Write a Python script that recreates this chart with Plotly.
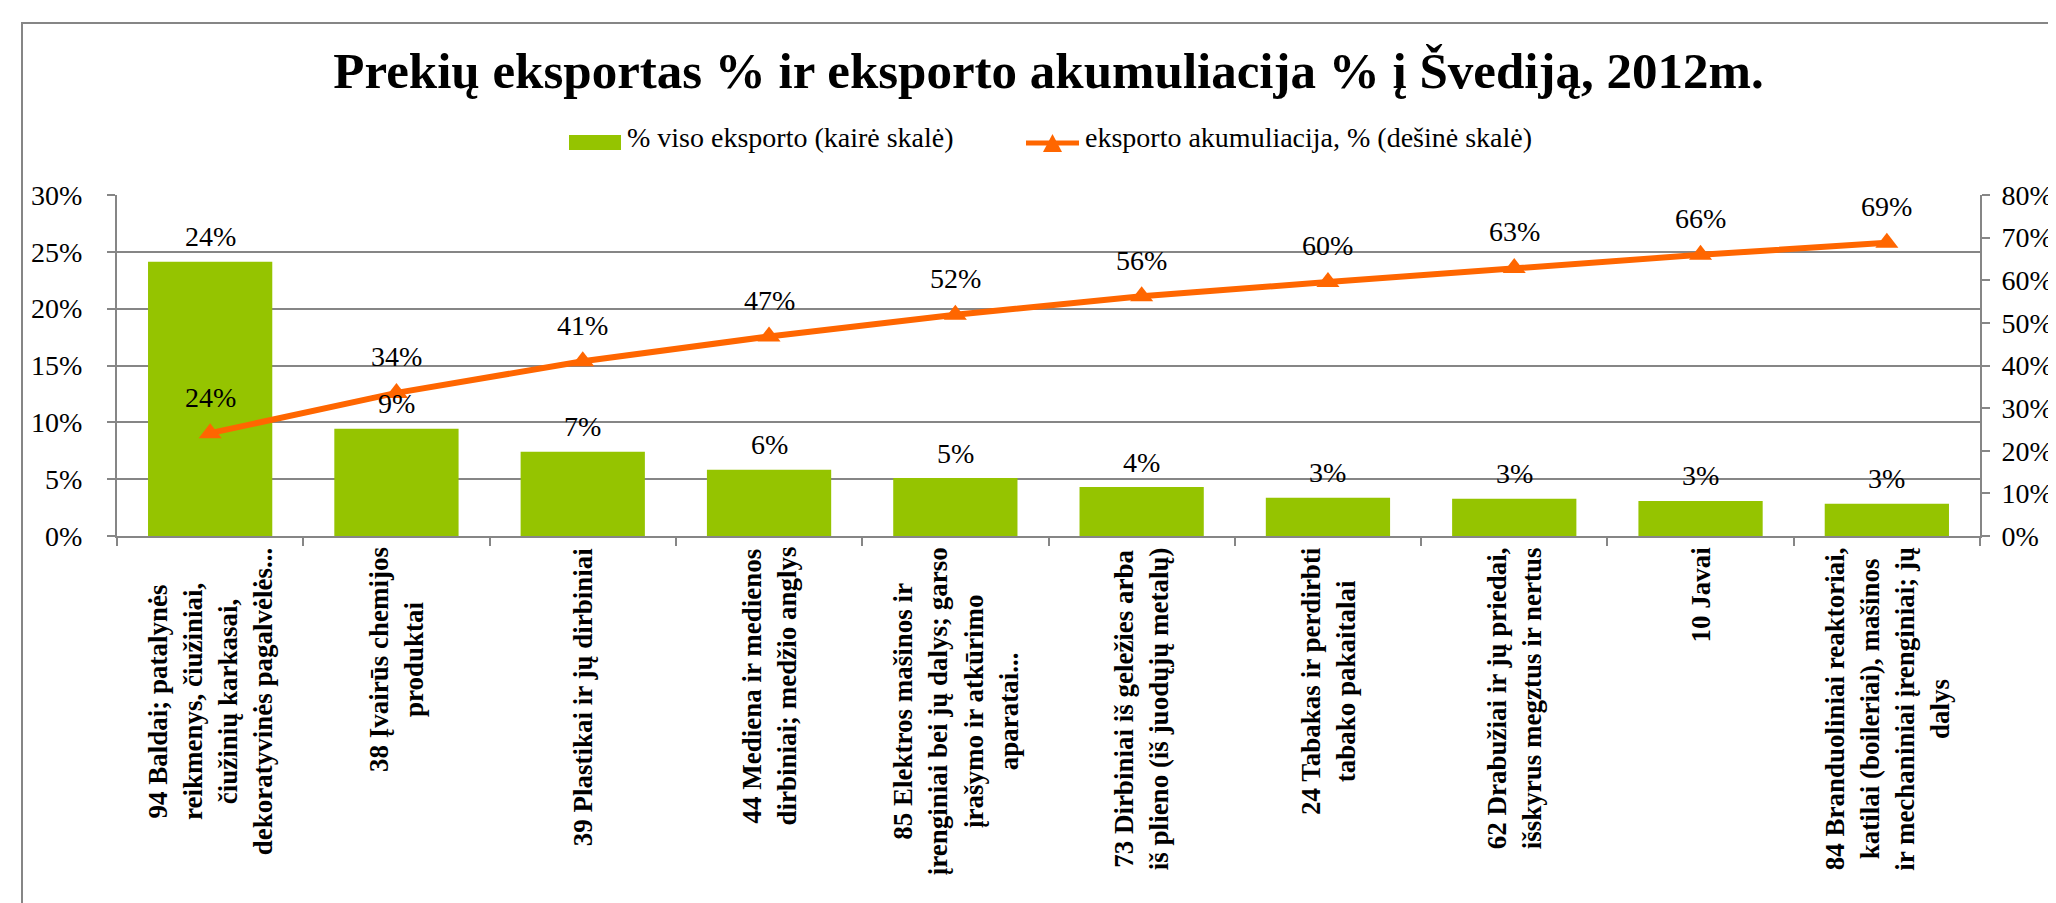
import plotly.graph_objects as go

# ---- data ----
categories = [
    "94 Baldai; patalynės<br>reikmenys, čiužiniai,<br>čiužinių karkasai,<br>dekoratyvinės pagalvėlės...",
    "38 Įvairūs chemijos<br>produktai",
    "39 Plastikai ir jų dirbiniai",
    "44 Mediena ir medienos<br>dirbiniai; medžio anglys",
    "85 Elektros mašinos ir<br>įrenginiai bei jų dalys; garso<br>įrašymo ir atkūrimo<br>aparatai...",
    "73 Dirbiniai iš geležies arba<br>iš plieno (iš juodųjų metalų)",
    "24 Tabakas ir perdirbti<br>tabako pakaitalai",
    "62 Drabužiai ir jų priedai,<br>išskyrus megztus ir nertus",
    "10 Javai",
    "84 Branduoliniai reaktoriai,<br>katilai (boileriai), mašinos<br>ir mechaniniai įrenginiai; jų<br>dalys",
]
export_share = [0.2413, 0.0944, 0.0742, 0.0583, 0.0510, 0.0431, 0.0337, 0.0328, 0.0308, 0.0284]
cumulative = [0.2413, 0.3357, 0.4099, 0.4682, 0.5192, 0.5623, 0.5960, 0.6288, 0.6596, 0.6880]

title_text = "Prekių eksportas % ir eksporto akumuliacija % į Švediją, 2012m."
bar_name = "% viso eksporto (kairė skalė)"
line_name = "eksporto akumuliacija, % (dešinė skalė)"

left_ticks = [0, 0.05, 0.10, 0.15, 0.20, 0.25, 0.30]
right_ticks = [0, 0.1, 0.2, 0.3, 0.4, 0.5, 0.6, 0.7, 0.8]

# ---- style ----
W, H = 2056, 903
L, R, T, B = 109, 1972, 187, 528
GREEN = "#95C400"
ORANGE = "#FF6600"
GRAY = "#868686"
SERIF = "Liberation Serif"


def px(x):
    return (x - L) / (R - L)


def py(y):
    return (B - y) / (B - T)


keys = [f"c{i}" for i in range(len(categories))]

fig = go.Figure()
fig.add_trace(go.Bar(
    x=keys, y=export_share, name=bar_name, marker=dict(color=GREEN, line=dict(width=0)),
    showlegend=False, hoverinfo="skip",
))
fig.add_trace(go.Scatter(
    x=keys, y=cumulative, name=line_name, yaxis="y2", mode="lines+markers",
    line=dict(color=ORANGE, width=6),
    marker=dict(symbol="triangle-up", size=20, color=ORANGE),
    showlegend=False, hoverinfo="skip",
))

annotations = []
# data labels
for k, v in zip(keys, export_share):
    annotations.append(dict(x=k, y=v, xref="x", yref="y", text=f"{v:.0%}", showarrow=False,
                            yanchor="middle", yshift=25,
                            font=dict(family=SERIF, size=28, color="black")))
for k, v in zip(keys, cumulative):
    annotations.append(dict(x=k, y=v, xref="x", yref="y2", text=f"{v:.0%}", showarrow=False,
                            yanchor="middle", yshift=36,
                            font=dict(family=SERIF, size=28, color="black")))
# category labels (rotated, centered lines)
for k, c in zip(keys, categories):
    annotations.append(dict(x=k, y=0, xref="x", yref="paper", text=f"<b>{c}</b>", showarrow=False,
                            textangle=-90, xanchor="center", yanchor="top", yshift=-9, align="center",
                            font=dict(family=SERIF, size=27, color="black")))
# legend texts
annotations.append(dict(x=px(617), y=py(130), xref="paper", yref="paper", text=bar_name,
                        showarrow=False, xanchor="left", yanchor="middle",
                        font=dict(family=SERIF, size=28, color="black")))
annotations.append(dict(x=px(1075), y=py(130), xref="paper", yref="paper", text=line_name,
                        showarrow=False, xanchor="left", yanchor="middle",
                        font=dict(family=SERIF, size=28, color="black")))

shapes = [
    # outer chart frame
    dict(type="rect", xref="paper", yref="paper", x0=px(14), x1=px(2080), y0=py(930), y1=py(15),
         line=dict(color=GRAY, width=2), fillcolor="rgba(0,0,0,0)", layer="below"),
    # legend swatch
    dict(type="rect", xref="paper", yref="paper", x0=px(561), x1=px(613), y0=py(142), y1=py(127),
         line=dict(width=0), fillcolor=GREEN),
    # legend line
    dict(type="line", xref="paper", yref="paper", x0=px(1018), x1=px(1071), y0=py(135), y1=py(135),
         line=dict(color=ORANGE, width=5)),
    # legend triangle
    dict(type="path", xref="paper", yref="paper",
         path=f"M {px(1035)} {py(144)} L {px(1054)} {py(144)} L {px(1044.5)} {py(126)} Z",
         line=dict(width=0), fillcolor=ORANGE),
]

fig.update_layout(
    width=W, height=H,
    margin=dict(l=L, r=W - R, t=T, b=H - B, pad=0, autoexpand=False),
    paper_bgcolor="white", plot_bgcolor="white",
    title=dict(text=f"<b>{title_text}</b>", x=0.5, xref="paper", xanchor="center",
               y=1 - 62 / H, yref="container", yanchor="middle", automargin=False,
               font=dict(family=SERIF, size=51, color="black")),
    showlegend=False,
    bargap=0.333,
    annotations=annotations,
    shapes=shapes,
    xaxis=dict(type="category", range=[-0.5, len(keys) - 0.5], tickson="boundaries",
               ticks="outside", ticklen=8, tickwidth=2, tickcolor=GRAY, automargin=False,
               showline=True, linecolor=GRAY, linewidth=2, showgrid=False,
               showticklabels=False, fixedrange=True),
    yaxis=dict(range=[0, 0.30], tickvals=left_ticks, tickformat=".0%", automargin=False,
               showgrid=True, gridcolor=GRAY, gridwidth=2, zeroline=False,
               ticks="outside", ticklen=8, tickwidth=2, tickcolor=GRAY,
               showline=True, linecolor=GRAY, linewidth=2, ticklabelstandoff=19,
               tickfont=dict(family=SERIF, size=28, color="black")),
    yaxis2=dict(range=[0, 0.80], tickvals=right_ticks, tickformat=".0%", overlaying="y", side="right",
                showgrid=False, zeroline=False, automargin=False,
                ticks="outside", ticklen=8, tickwidth=2, tickcolor=GRAY,
                showline=True, linecolor=GRAY, linewidth=2, ticklabelstandoff=6,
                tickfont=dict(family=SERIF, size=28, color="black")),
)

fig.write_html("out.html")
